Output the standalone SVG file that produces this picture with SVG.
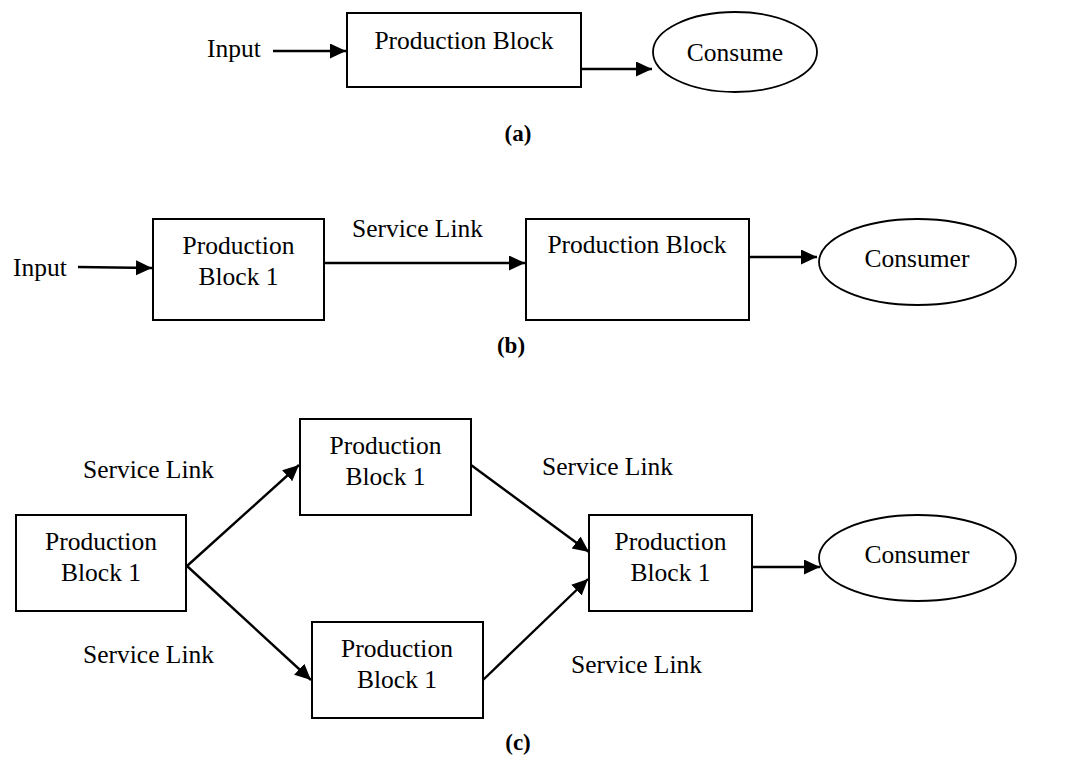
<svg xmlns="http://www.w3.org/2000/svg" width="1065" height="765" viewBox="0 0 1065 765">
<style>
  .box{fill:#fff;stroke:#000;stroke-width:2}
  .ell{fill:#fff;stroke:#000;stroke-width:1.8}
  .t{font-family:'Liberation Serif',Tinos,'Times New Roman','DejaVu Serif',serif;font-size:25.5px;fill:#000}
  .c{text-anchor:middle}
  .lbl{font-family:'Liberation Serif',Tinos,'Times New Roman','DejaVu Serif',serif;font-size:23px;font-weight:bold;text-anchor:middle;fill:#000}
  .ln{stroke:#000;stroke-width:2.4;fill:none;marker-end:url(#ah)}
</style>
<defs>
  <marker id="ah" markerUnits="userSpaceOnUse" markerWidth="17" markerHeight="16" refX="16" refY="7.5" orient="auto">
    <path d="M0,0 L16,7.5 L0,15 Z" fill="#000"/>
  </marker>
</defs>
<rect width="1065" height="765" fill="#fff"/>

<g id="connectors">
  <line class="ln" x1="273" y1="51" x2="346" y2="51"/>
  <line class="ln" x1="581" y1="69" x2="652" y2="69"/>
  <line class="ln" x1="78" y1="267" x2="152" y2="268"/>
  <line class="ln" x1="324" y1="263" x2="525" y2="263"/>
  <line class="ln" x1="749" y1="257" x2="817" y2="257"/>
  <line class="ln" x1="187" y1="566" x2="299" y2="465"/>
  <line class="ln" x1="187" y1="566" x2="311" y2="680"/>
  <line class="ln" x1="471" y1="465" x2="589" y2="552"/>
  <line class="ln" x1="483" y1="680" x2="588" y2="579"/>
  <line class="ln" x1="752" y1="567" x2="820" y2="567"/>
</g>

<g id="a-input"><text class="t" x="207" y="57">Input</text></g>
<g id="a-block"><rect class="box" x="347" y="13" width="234" height="74"/><text class="t c" x="464" y="49">Production Block</text></g>
<g id="a-consume"><ellipse class="ell" cx="735" cy="52" rx="82" ry="40"/><text class="t c" x="735" y="61">Consume</text></g>
<g id="a-label"><text class="lbl" x="518" y="141">(a)</text></g>

<g id="b-input"><text class="t" x="13" y="276">Input</text></g>
<g id="b-block1"><rect class="box" x="153" y="219" width="171" height="101"/><text class="t c" x="238.5" y="254">Production</text><text class="t c" x="238.5" y="285">Block 1</text></g>
<g id="b-link"><text class="t" x="352" y="237">Service Link</text></g>
<g id="b-block2"><rect class="box" x="526" y="219" width="223" height="101"/><text class="t c" x="637" y="253">Production Block</text></g>
<g id="b-consumer"><ellipse class="ell" cx="917.5" cy="262" rx="98.5" ry="43"/><text class="t c" x="917" y="267">Consumer</text></g>
<g id="b-label"><text class="lbl" x="511" y="353">(b)</text></g>

<g id="c-block-left"><rect class="box" x="16" y="515" width="170" height="96"/><text class="t c" x="101" y="550">Production</text><text class="t c" x="101" y="581">Block 1</text></g>
<g id="c-block-top"><rect class="box" x="300" y="419" width="171" height="96"/><text class="t c" x="385.5" y="454">Production</text><text class="t c" x="385.5" y="485">Block 1</text></g>
<g id="c-block-bottom"><rect class="box" x="312" y="622" width="171" height="96"/><text class="t c" x="397" y="657">Production</text><text class="t c" x="397" y="688">Block 1</text></g>
<g id="c-block-right"><rect class="box" x="589" y="515" width="163" height="96"/><text class="t c" x="670.5" y="550">Production</text><text class="t c" x="670.5" y="581">Block 1</text></g>
<g id="c-consumer"><ellipse class="ell" cx="917.5" cy="558" rx="98.5" ry="43"/><text class="t c" x="917" y="563">Consumer</text></g>
<g id="c-links">
  <text class="t" x="83" y="478">Service Link</text>
  <text class="t" x="83" y="663">Service Link</text>
  <text class="t" x="542" y="475">Service Link</text>
  <text class="t" x="571" y="673">Service Link</text>
</g>
<g id="c-label"><text class="lbl" x="518" y="750">(c)</text></g>
</svg>
